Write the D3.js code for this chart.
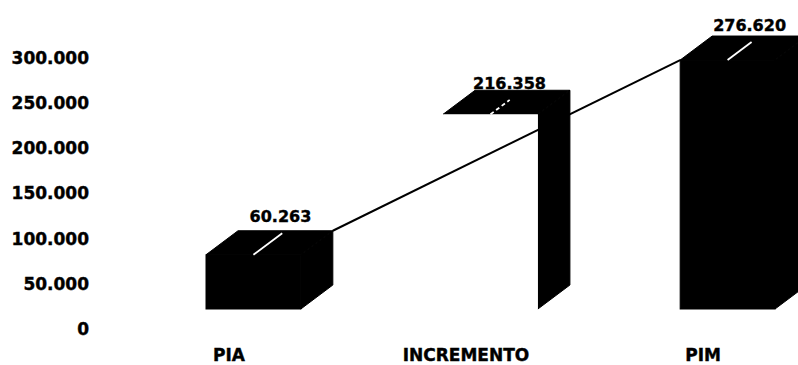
<!DOCTYPE html>
<html>
<head>
<meta charset="utf-8">
<script src="https://cdn.jsdelivr.net/npm/d3@7.9.0/dist/d3.min.js"></script>
<style>
  html, body { margin: 0; padding: 0; background: #fff; }
  svg { display: block; }
  text { font-family: "DejaVu Sans", sans-serif; font-weight: 700; fill: #000; stroke: #000; stroke-width: 0.4; }
</style>
</head>
<body>
<svg id="chart" width="798" height="365"></svg>
<script>
const categories = ['PIA', 'INCREMENTO', 'PIM'];
const values = [60263, 216358, 276620];
const valueLabels = ['60.263', '216.358', '276.620'];
const yTicks = [0, 50000, 100000, 150000, 200000, 250000, 300000];
const yTickLabels = ['0', '50.000', '100.000', '150.000', '200.000', '250.000', '300.000'];
const frontFills = ['#000', '#fff', '#000'];

const svg = d3.select('#chart');

// front plane of the columns, the axis labels sit lower than this
const y = d3.scaleLinear().domain([0, 300000]).range([309, 39]);
const axisY = d3.scaleLinear().domain([0, 300000]).range([329, 58]);
const x = d3.scaleBand().domain(categories).range([206, 775]).paddingInner(0.6).paddingOuter(0);
const depthX = 32;
const depthY = -24;

// value axis, labels only
const axis = d3.axisLeft(axisY)
    .tickValues(yTicks)
    .tickFormat((d, i) => yTickLabels[i])
    .tickSize(0)
    .tickPadding(0);
svg.append('g')
    .attr('transform', 'translate(89,0)')
    .call(axis)
    .call((g) => g.select('.domain').remove())
    .selectAll('text')
    .attr('font-size', 17)
    .style('font-family', '"DejaVu Sans", sans-serif');

// category labels under the columns
svg.append('g')
    .selectAll('text')
    .data(categories)
    .join('text')
    .attr('x', (d) => x(d) + x.bandwidth() / 2 - 24.5)
    .attr('y', 361)
    .attr('font-size', 17)
    .attr('text-anchor', 'middle')
    .text((d) => d);

// columns: side, top, front
const slashReach = [0.9, 0.6, 0.75];
const bars = svg.append('g')
    .selectAll('g')
    .data(categories)
    .join('g');

bars.each(function (d, i) {
    const g = d3.select(this);
    const x0 = x(d);
    const x1 = x0 + x.bandwidth();
    const yTop = y(values[i]);
    const yBase = y(0);
    const pts = (arr) => arr.map((p) => p.join(',')).join(' ');
    g.append('polygon')
        .attr('points', pts([[x1, yTop], [x1 + depthX, yTop + depthY], [x1 + depthX, yBase + depthY], [x1, yBase]]))
        .attr('fill', '#000')
        .attr('stroke', '#000');
    g.append('polygon')
        .attr('points', pts([[x0, yTop], [x0 + depthX, yTop + depthY], [x1 + depthX, yTop + depthY], [x1, yTop]]))
        .attr('fill', '#000')
        .attr('stroke', '#000');
    g.append('rect')
        .attr('x', x0)
        .attr('y', yTop)
        .attr('width', x.bandwidth())
        .attr('height', yBase - yTop)
        .attr('fill', frontFills[i])
        .attr('stroke', frontFills[i] === '#000' ? '#000' : 'none');
    // white leader on the top face
    const cx = x0 + x.bandwidth() / 2;
    g.append('line')
        .attr('x1', cx)
        .attr('y1', yTop)
        .attr('x2', cx + depthX * slashReach[i])
        .attr('y2', yTop + depthY * slashReach[i])
        .attr('stroke', '#fff')
        .attr('stroke-width', 1.8)
        .attr('stroke-dasharray', frontFills[i] === '#fff' ? '4 3' : null);
});

// line from the back corner of the first column to the front corner of the last
const lineGen = d3.line();
svg.append('path')
    .attr('d', lineGen([
        [x('PIA') + x.bandwidth() + depthX, y(values[0]) + depthY],
        [x('PIM'), y(values[2])],
    ]))
    .attr('fill', 'none')
    .attr('stroke', '#000')
    .attr('stroke-width', 2);

// value labels above the columns
const labelShift = [27, 19, 22];
const labelGap = [9, 1, 5];
svg.append('g')
    .selectAll('text')
    .data(categories)
    .join('text')
    .attr('x', (d, i) => x(d) + x.bandwidth() / 2 + labelShift[i])
    .attr('y', (d, i) => y(values[i]) + depthY - labelGap[i])
    .attr('font-size', 16)
    .attr('text-anchor', 'middle')
    .text((d, i) => valueLabels[i]);
</script>
</body>
</html>
